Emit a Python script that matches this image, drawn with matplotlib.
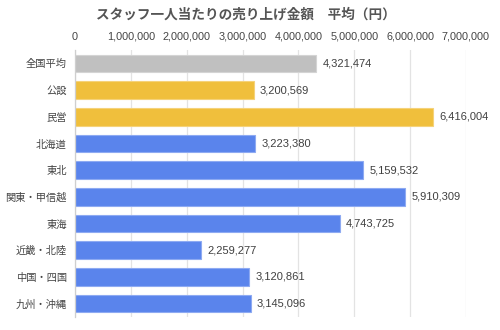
import matplotlib
matplotlib.use("Agg")
import matplotlib.pyplot as plt
from matplotlib.ticker import FuncFormatter

plt.rcParams['font.family'] = ['Noto Sans CJK JP', 'DejaVu Sans']

categories = ["全国平均", "公設", "民営", "北海道", "東北", "関東・甲信越", "東海", "近畿・北陸", "中国・四国", "九州・沖縄"]
values = [4321474, 3200569, 6416004, 3223380, 5159532, 5910309, 4743725, 2259277, 3120861, 3145096]
groups = ["avg", "type", "type", "region", "region", "region", "region", "region", "region", "region"]
title = "スタッフ一人当たりの売り上げ金額　平均（円）"
xticks = [0, 1000000, 2000000, 3000000, 4000000, 5000000, 6000000, 7000000]

colors = {"avg": "#c0c0c0", "type": "#f0bf3c", "region": "#5a84ec"}
edges = {"avg": "#d4d4d4", "type": "#f5d27a", "region": "#8eaaf2"}

fig = plt.figure(figsize=(5, 3.3), dpi=100)
ax = fig.add_axes([75/500, 1 - 317/330, (466 - 75)/500, (317 - 50)/330])

y = list(range(len(categories)))
ax.barh(y, values, height=0.66,
        color=[colors[g] for g in groups],
        edgecolor=[edges[g] for g in groups], linewidth=0.8, zorder=2)
for yi, v in zip(y, values):
    ax.text(v + 110000, yi, f"{v:,}", va="center", ha="left", fontsize=8, color="#404040",
            family=['Liberation Sans', 'DejaVu Sans'])

ax.set_ylim(len(categories) - 0.5, -0.5)
ax.set_xlim(0, 7000000)
ax.set_yticks(y)
ax.set_yticklabels(categories, fontsize=7.4, color="#444444")
ax.set_xticks(xticks)
ax.xaxis.set_major_formatter(FuncFormatter(lambda v, p: f"{int(v):,}"))
ax.xaxis.tick_top()
for lab in ax.get_xticklabels():
    lab.set_fontsize(7.8)
    lab.set_color("#444444")
    lab.set_family(['Liberation Sans', 'DejaVu Sans'])
ax.tick_params(axis='x', length=0, pad=6)
ax.tick_params(axis='y', length=0, pad=6)
ax.grid(axis='x', color="#e3e3e3", linewidth=0.9, zorder=0)
for s in ["top", "right", "bottom"]:
    ax.spines[s].set_visible(False)
ax.spines["left"].set_color("#cfcfcf")
ax.spines["left"].set_linewidth(0.9)

fig.text(246/500, 1 - 15/330, title, ha="center", va="center", fontsize=9.8,
         fontweight="bold", color="#555555")

fig.savefig("out.png", dpi=100, facecolor="white")
